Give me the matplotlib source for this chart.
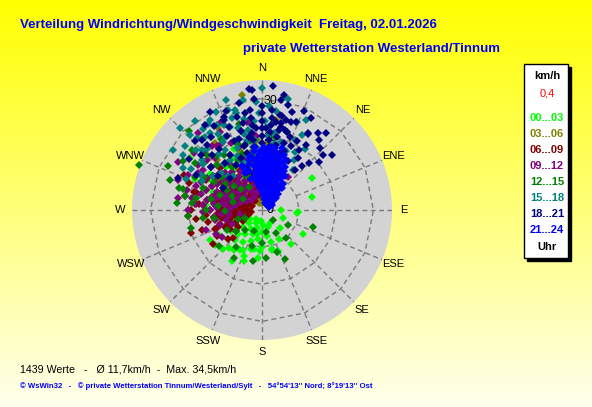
import numpy as np
import matplotlib
matplotlib.use("Agg")
import matplotlib.pyplot as plt
from matplotlib.patches import Rectangle

plt.rcParams['font.family'] = ['Liberation Sans', 'DejaVu Sans']

W, H = 592, 407

# wind direction (deg) / speed (km/h) per time slot
pts_00_03 = [(185,3),(215,3),
    (175,4),(205,4),(235,4),
    (160,5),(195,5),(225,5),(252,5),
    (180,6),(210,6),(240,6),
    (170,7),(200,7),(228,7),(248,7),
    (188,8),(215,8),(238,8),
    (165,9),(200,9),(225,9),(250,9),
    (180,10),(210,10),(236,10),
    (166,11),(195,11),(222,11),(245,11),
    (159,12),(205,12),(230,12),
    (185,13),(215,13),(240,13.5),
    (200,14.5),(225,15),(233,15.8),(240,16.2),(210,16),
    (183,11),(192,10.7),(201,13.3),(221,13.5),(209,12.3),(159,11.8),(166,10.8),(192,6.5),
    (90,5),(95,9.5),(93,9.7),(120,12.8),(148,4),(135,7),(110,6),(150,9),(140,12),(57,16),(75,14),
    (306,24),(300,12),(310,9),(290,14),(320,15),(280,8),(330,11),(305,17),(315,6),(295,20),
    (340,7),(325,13),(285,11),(270,9),(260,12),(345,10),(335,18),(300,4),(275,15),(265,7),
    (310,20),(300,16),(318,11),(285,17),(292,7),(330,16),(342,14)]

pts_03_06 = [(350,31.4),(9,24.5),(325,22),(318,18),(340,20),(345,27),
    (0,2),(350,3),(340,4),(355,5),(5,3),(330,3),(345,6),(10,4),(20,2),(355,2),(15,5),(25,3),
    (335,7),(350,8),(5,7),(0,9),(340,10),(320,6),(300,5),(310,9),(15,8),(355,12),(0,14),
    (350,16),(330,13),(10,11),(290,8),(280,12),(305,14),(325,9),(2,5),(358,6),(348,4.5),
    (8,6),(12,2.5),(30,4),(40,2),(345,11),
    (345,14),(338,12),(328,11),(322,16),(312,12),(300,9),(292,4),(335,2),(358,9),(5,12),
    (18,10),(22,6),(35,7),(345,2.5),(352,6.5),(4,4),(14,3.5),(28,5.5),(340,17),(356,19),
    (332,25),(5,18)]

pts_06_09 = [(260,3),(290,3),(320,3),
    (250,4),(275,4),(300,4),(330,4),
    (245,5),(265,5),(285,5),(305,5),(325,5),
    (240,6),(258,6),(275,6),(292,6),(310,6),(328,6),
    (250,7),(265,7),(280,7),(295,7),(310,7),(325,7),(340,7),
    (245,8),(260,8),(272,8),(285,8),(298,8),(312,8),(326,8),
    (255,9),(268,9),(280,9),(292,9),(305,9),(318,9),(332,9),
    (248,10),(262,10),(275,10),(288,10),(300,10),(313,10),
    (258,11),(270,11),(283,11),(296,11),(309,11),(322,11),
    (252,12),(266,12),(280,12),(293,12),(306,12),(318,12),
    (248,13),(262,13),(278,13),(292,13),(305,13),
    (270,14),(285,14),(300,14),(315,14),
    (265,15),(280,15),(295,15),(310,15),
    (275,16),(290,16),(305,16),
    (252,17),(275,17),(298,17),(285,18),(294,23),(265,20),(285,19),(310,18),
    (240,10),(235,8),(230,12),(248,13.6),(275,17.9),
    (258,15),(262,18),(270,19),(280,21),(290,21),(300,19),(315,16),(320,13),(330,12),
    (336,10),(340,8),(345,6),(350,4),(335,5),(245,11),(240,14),(235,16),(230,9),(255,7),
    (268,5),(282,6),(296,5),(300,11.5),(288,13),(275,12.5),(262,11.5),(308,7.5),(318,10.5),
    (226,11),(252,20)]

pts_09_12 = [(278,22.8),(304,19.2),(280,19.2),(332,23.9),(328,21),(322,22),(236,13),(242,14),(38,11.3),
    (290,6),(310,6),(330,6),
    (280,7),(300,7),(320,7),(340,7),
    (275,8),(292,8),(308,8),(325,8),
    (270,9),(285,9),(300,9),(315,9),(330,9),(345,9),
    (278,10),(292,10),(306,10),(320,10),(335,10),
    (265,11),(280,11),(295,11),(310,11),(325,11),(340,11),
    (272,12),(287,12),(302,12),(317,12),(332,12),
    (262,13),(277,13),(292,13),(307,13),(322,13),(337,13),
    (270,14),(285,14),(300,14),(315,14),(330,14),
    (280,15),(295,15),(310,15),(325,15),(340,15),
    (275,16),(290,16),(305,16),(320,16),
    (285,17),(300,17),(315,17),(330,17),
    (280,18),(295,18),(310,18),
    (290,19),(318,19),(300,20),(312,20),(335,20),(285,21),(310,24),
    (255,10),(250,16),(260,6),(350,15),(355,20),
    (295,22),(305,21),(315,22),(325,21),(340,18),(345,22),(350,24),(290,24),(275,18),
    (268,16),(262,9),(258,13),(298,5),(312,4),(328,4),(345,5),(352,10),(357,14),(335,26),
    (320,27),(300,26),(285,13),(305,15.5),(312,12.5),(290,10.5),(318,8.5),(335,12),(270,20),
    (250,12),(245,9)]

pts_12_15 = [(108,14.5),(155,14.6),(149,7.3),(256,19.7),(120,8),(170,6),(140,10),(200,6),
    (230,9),(215,12),(180,9),(160,12),(190,14),(250,7),(210,15),(130,4),
    (290,35.2),(317,29),(311,24.8),(296,20),(305,22),(280,18),(285,22),(300,15),(315,17),
    (330,22),(340,19),(325,14),(275,12),(290,12),(270,15),(260,13),(265,20),(295,28),
    (320,25),(350,15),(5,12),(335,10),(310,10),(285,23),(280,21),(295,9),(345,24),(10,20),
    (355,8),(300,6),(275,23),(262,16),
    (300,18),(310,14),(320,19),(290,17),(282,14),(305,12),(315,21),(325,18),(335,15),
    (345,13),(350,19),(302,25),(288,26),(276,19),(268,10),(285,8),(300,11),(315,8),(330,7),
    (340,16),(355,17),(3,10),(12,15),(20,10),(220,7),(240,11),(230,15),(245,5),(195,10),(175,13)]

pts_15_18 = [(0,32.8),(341,28.5),(345,28),(328,27.3),(315,31.4),(332,26),(336,25),(312,24),
    (315,23),(298,24),(13,30.7),(21.6,25.5),(25,20.8),(18,22),(8,27),(38,13.7),(350,22),
    (355,24),(348,19),(340,20),(330,21),(322,19),(335,16),(320,16),(345,15),(352,17),(5,20),
    (10,18),(15,15),(308,20),(325,24),(318,26),(342,31),(357,29),(2,24),(335,29),(30,18),
    (20,14),(305,16),(300,19),(330,23.5),(326,25),(324,27),(345,27),(342,26),(6,23),(28,23),
    (350,30),(0,12),(340,12),(315,13),(3,16),(12,22),(35,20),
    (318,22),(322,25),(328,19),(333,22),(338,18),(344,23),(310,27),(305,26),(300,22),(296,18),
    (312,15),(320,12),(327,16),(337,14),(347,21),(354,19),(358,26),(4,28),(9,21),(16,19),
    (22,17),(26,27),(33,16),(310,21),(316,28),(323,30),(330,28),(339,24),(349,25),(304,29),(292,22)]

pts_18_21 = [(353,17),(353,19),(353,21),(353,23),(353,25),(353,27),
    (0,16),(0,18),(0,20),(0,22),(0,24),(0,26),(0,28),
    (6,15),(6,17),(6,19),(6,21),(6,23),(6,25),(6,27),
    (12,16),(12,18),(12,20),(12,22),(12,24),(12,26),
    (18,16),(18,19),(18,22),(18,25),
    (345,14),(345,18),(345,22),(345,26),
    (338,15),(338,20),(338,24),(338,27),
    (5,33.5),(354,32.8),(36,25.5),(39,24.3),(32,19),(40,14),(16,22.4),(337,26.4),(291,24.3),
    (325,20),(320,23),(330,17),(28,28),(45,18),(50,20),(310,18),(25,12),(348,10),(340,12),
    (31,24),(332,30),(10,30),(300,12),(315,12),(319,24.8),(340,28.5),(350,26.5),(326,27.5),
    (355,32.4),(348,29.4),(11,31.5),(17,27.6),(21,25.3),(31,24.3),(40,27),(34,21),(11,26),
    (13,23),(3,13),(8,12),(15,13),(20,17),(24,19),(28,15),(345,16),(335,13),(43,23),(30,11),
    (325,24),(330,26),(318,20),(312,22),(305,24),(298,20),(335,22),(342,20),(348,24),(356,22),
    (3,22),(9,24),(15,25),(21,21),(27,21),(35,17),(42,16),(48,22),(52,24),(23,29),(14,29),
    (356,30),(350,20),(344,18),(338,11),(330,14),(322,16),(316,26),(308,15)]

pts_21_24 = [(30,2),(45,2),(60,2),(20,2),
    (10,3),(25,3),(40,3),(55,3),
    (5,4),(15,4),(25,4),(35,4),(45,4),
    (0,5),(10,5),(20,5),(30,5),(40,5),
    (355,6),(5,6),(12,6),(20,6),(28,6),(36,6),
    (352,7),(0,7),(8,7),(15,7),(22,7),(30,7),(38,7),
    (350,8),(357,8),(4,8),(10,8),(17,8),(24,8),(32,8),
    (348,9),(355,9),(2,9),(8,9),(14,9),(20,9),(27,9),
    (350,10),(356,10),(2,10),(8,10),(13,10),(19,10),(25,10),(31,10),
    (352,11),(358,11),(4,11),(9,11),(14,11),(20,11),(26,11),
    (350,12),(356,12),(1,12),(6,12),(11,12),(16,12),(22,12),
    (354,13),(0,13),(5,13),(10,13),(15,13),(20,13),
    (355,14),(1,14),(6,14),(11,14),(17,14),
    (357,15),(3,15),(8,15),(13,15),(19,15),
    (358,16),(4,16),(9,16),(15,16),
    (2,17),(8,17),
    (340,9),(342,11),(344,13),(338,12),(346,14),(348,15),(40,9),(42,8),(45,6),(50,5),(36,9),
    (34,11),(28,13),(24,14),(22,16),(352,16),(354,17),(12,17),(18,17.5),(65,3),(70,2),
    (50,3.5),(30,12),(26,15),(350,14),(335,11),(336,13)]

slots = ["00...03", "03...06", "06...09", "09...12", "12...15", "15...18", "18...21", "21...24"]
slot_colors = ["#00ff00", "#808000", "#800000", "#800080", "#008000", "#008080", "#000080", "#0000ff"]
slot_points = [pts_00_03, pts_03_06, pts_06_09, pts_09_12, pts_12_15, pts_15_18, pts_18_21, pts_21_24]

compass = ["N", "NNE", "NE", "ENE", "E", "ESE", "SE", "SSE",
           "S", "SSW", "SW", "WSW", "W", "WNW", "NW", "NNW"]
rings = [10, 20, 30]
rmax = 35

fig = plt.figure(figsize=(W / 100, H / 100), dpi=100)

# yellow gradient background
bg = fig.add_axes([0, 0, 1, 1])
grad = np.linspace(0, 1, 256)[:, None]
top = np.array([1.0, 1.0, 0.0])
bot = np.array([1.0, 1.0, 0.93])
img = top[None, None, :] * (1 - grad[:, :, None]) + bot[None, None, :] * grad[:, :, None]
bg.imshow(img, aspect='auto', extent=[0, 1, 0, 1])
bg.axis('off')

def fx(x):
    return x / W

def fy(y):
    return 1 - y / H

cx, cy, rad = 262, 210, 130
ax = fig.add_axes([fx(cx - rad), fy(cy + rad), 2 * rad / W, 2 * rad / H], projection='polar')
ax.set_theta_zero_location('N')
ax.set_theta_direction(-1)
ax.set_ylim(0, rmax)
ax.set_facecolor('#d3d3d3')
ax.grid(False)
ax.set_xticks([])
ax.set_yticks([])
ax.spines['polar'].set_visible(False)

dash = dict(color='#7a7a7a', lw=1, ls=(0, (3.5, 2.5)), zorder=1)
th16 = np.radians(np.arange(0, 360, 22.5))
for r in rings:
    ax.plot(np.append(th16, th16[0]), [r] * 17, **dash)
for i, t in enumerate(th16):
    r0 = 0 if i % 4 == 0 else rings[0]
    ax.plot([t, t], [r0, rmax], **dash)

for r in [0] + rings:
    ax.annotate(str(r), xy=(0, r), xytext=(8, -2 if r else 0), textcoords='offset pixels',
                ha='center', va='center', fontsize=9, zorder=2)

for lab, t in zip(compass, th16):
    ax.text(t, 38.2, lab, ha='center', va='center', fontsize=8, clip_on=False)

for pts, col in zip(slot_points, slot_colors):
    d = np.radians([p[0] for p in pts])
    s = [p[1] for p in pts]
    ax.plot(d, s, 'D', ms=3.6, mew=0, color=col, ls='none', zorder=3, clip_on=False)

blue = '#0000ff'
fig.text(fx(20), fy(25), "Verteilung Windrichtung/Windgeschwindigkeit  Freitag, 02.01.2026",
         color=blue, fontsize=9.5, fontweight='bold', va='center')
fig.text(fx(243), fy(49), "private Wetterstation Westerland/Tinnum",
         color=blue, fontsize=9.5, fontweight='bold', va='center')

# legend box with shadow
fig.patches.append(Rectangle((fx(527), fy(261)), (571 - 527) / W, (261 - 67) / H,
                             transform=fig.transFigure, color='black', zorder=5))
fig.patches.append(Rectangle((fx(524), fy(258)), (568 - 524) / W, (258 - 64) / H,
                             transform=fig.transFigure, facecolor='white',
                             edgecolor='black', lw=1, zorder=6))
lx = 547
fig.text(fx(lx), fy(76), "km/h", ha='center', va='center', fontsize=8, fontweight='bold', zorder=7)
fig.text(fx(lx), fy(93), "0,4", ha='center', va='center', fontsize=8, color='red', zorder=7)
for i, (lab, col) in enumerate(zip(slots, slot_colors)):
    fig.text(fx(lx), fy(118 + i * 16), lab, ha='center', va='center', fontsize=8,
             fontweight='bold', color=col, zorder=7)
fig.text(fx(lx), fy(247), "Uhr", ha='center', va='center', fontsize=8, fontweight='bold', zorder=7)

fig.text(fx(20), fy(369), "1439 Werte   -   \u00d8 11,7km/h  -  Max. 34,5km/h",
         fontsize=7.7, va='center')
fig.text(fx(20), fy(386),
         "\u00a9 WsWin32   -   \u00a9 private Wetterstation Tinnum/Westerland/Sylt   -   "
         "54\u00b054'13'' Nord; 8\u00b019'13'' Ost",
         fontsize=5.6, fontweight='bold', color=blue, va='center')

fig.savefig("out.png", dpi=100)
